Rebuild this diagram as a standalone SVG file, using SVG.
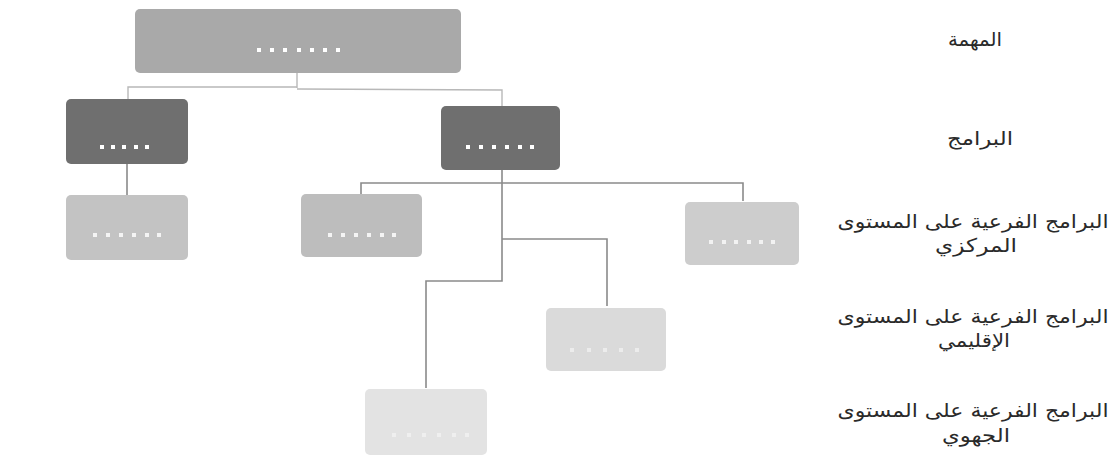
<svg xmlns="http://www.w3.org/2000/svg" width="1119" height="457" viewBox="0 0 1119 457">
<style>
.lbl{font-family:"DejaVu Sans","Liberation Sans",sans-serif;font-size:19px;fill:#2a2a2a;text-anchor:middle;direction:rtl}
.conn{fill:none;stroke:#8a8a8a;stroke-width:1.6}
.connL{fill:none;stroke:#b8b8b8;stroke-width:1.4}
.node{stroke:none}
</style>
<rect width="1119" height="457" fill="#ffffff"/>
<g id="connectors">
  <path class="connL" d="M297 73 V88 M128 100 V87 H297 M297 89 L502 90 V106"/>
  <path class="conn" d="M127 164 V195"/>
  <path class="conn" d="M502 170 V281 H426 V388"/>
  <path class="conn" d="M361 194 V183 H743 V201"/>
  <path class="conn" d="M502 239 H607 V306"/>
</g>
<g id="node-mission">
  <rect class="node" x="135" y="9" width="326" height="64" rx="5" fill="#a9a9a9"/>
  <g fill="#ffffff"><rect x="257" y="48" width="4" height="4"/><rect x="270" y="48" width="4" height="4"/><rect x="283" y="48" width="4" height="4"/><rect x="297" y="48" width="4" height="4"/><rect x="310" y="48" width="4" height="4"/><rect x="323" y="48" width="4" height="4"/><rect x="336" y="48" width="4" height="4"/></g>
</g>
<g id="node-program-left">
  <rect class="node" x="66" y="99" width="122" height="65" rx="5" fill="#6f6f6f"/>
  <g fill="#ffffff"><rect x="100" y="145" width="4" height="4"/><rect x="111" y="145" width="4" height="4"/><rect x="122" y="145" width="4" height="4"/><rect x="134" y="145" width="4" height="4"/><rect x="145" y="145" width="4" height="4"/></g>
</g>
<g id="node-program-right">
  <rect class="node" x="441" y="106" width="119" height="64" rx="5" fill="#6f6f6f"/>
  <g fill="#ffffff"><rect x="466" y="145" width="4" height="4"/><rect x="479" y="145" width="4" height="4"/><rect x="492" y="145" width="4" height="4"/><rect x="505" y="145" width="4" height="4"/><rect x="518" y="145" width="4" height="4"/><rect x="530" y="145" width="4" height="4"/></g>
</g>
<g id="node-central-1">
  <rect class="node" x="66" y="195" width="122" height="65" rx="5" fill="#c3c3c3"/>
  <g fill="#f4f4f4"><rect x="93" y="233" width="4" height="4"/><rect x="106" y="233" width="4" height="4"/><rect x="119" y="233" width="4" height="4"/><rect x="132" y="233" width="4" height="4"/><rect x="145" y="233" width="4" height="4"/><rect x="157" y="233" width="4" height="4"/></g>
</g>
<g id="node-central-2">
  <rect class="node" x="301" y="194" width="121" height="63" rx="5" fill="#bdbdbd"/>
  <g fill="#f4f4f4"><rect x="328" y="233" width="4" height="4"/><rect x="341" y="233" width="4" height="4"/><rect x="354" y="233" width="4" height="4"/><rect x="367" y="233" width="4" height="4"/><rect x="380" y="233" width="4" height="4"/><rect x="392" y="233" width="4" height="4"/></g>
</g>
<g id="node-central-3">
  <rect class="node" x="685" y="202" width="114" height="63" rx="5" fill="#cdcdcd"/>
  <g fill="#f2f2f2"><rect x="709" y="240" width="4" height="4"/><rect x="722" y="240" width="4" height="4"/><rect x="734" y="240" width="4" height="4"/><rect x="747" y="240" width="4" height="4"/><rect x="759" y="240" width="4" height="4"/><rect x="771" y="240" width="4" height="4"/></g>
</g>
<g id="node-regional">
  <rect class="node" x="546" y="308" width="120" height="63" rx="5" fill="#dadada"/>
  <g fill="#ececec"><rect x="570" y="348" width="4" height="4"/><rect x="587" y="348" width="4" height="4"/><rect x="603" y="348" width="4" height="4"/><rect x="619" y="348" width="4" height="4"/><rect x="635" y="348" width="4" height="4"/></g>
</g>
<g id="node-local">
  <rect class="node" x="365" y="389" width="122" height="66" rx="5" fill="#e3e3e3"/>
  <g fill="#efefef"><rect x="392" y="433" width="4" height="4"/><rect x="407" y="433" width="4" height="4"/><rect x="422" y="433" width="4" height="4"/><rect x="437" y="433" width="4" height="4"/><rect x="452" y="433" width="4" height="4"/><rect x="465" y="433" width="4" height="4"/></g>
</g>
<g id="labels">
  <text class="lbl" x="975" y="46" textLength="54" lengthAdjust="spacingAndGlyphs">المهمة</text>
  <text class="lbl" x="980" y="145" textLength="66" lengthAdjust="spacingAndGlyphs">البرامج</text>
  <text class="lbl" x="973" y="228" textLength="271" lengthAdjust="spacingAndGlyphs">البرامج الفرعية على المستوى</text>
  <text class="lbl" x="976" y="252" textLength="82" lengthAdjust="spacingAndGlyphs">المركزي</text>
  <text class="lbl" x="973" y="323" textLength="271" lengthAdjust="spacingAndGlyphs">البرامج الفرعية على المستوى</text>
  <text class="lbl" x="974" y="347" textLength="72" lengthAdjust="spacingAndGlyphs">الإقليمي</text>
  <text class="lbl" x="973" y="417" textLength="271" lengthAdjust="spacingAndGlyphs">البرامج الفرعية على المستوى</text>
  <text class="lbl" x="976" y="442" textLength="68" lengthAdjust="spacingAndGlyphs">الجهوي</text>
</g>
</svg>
